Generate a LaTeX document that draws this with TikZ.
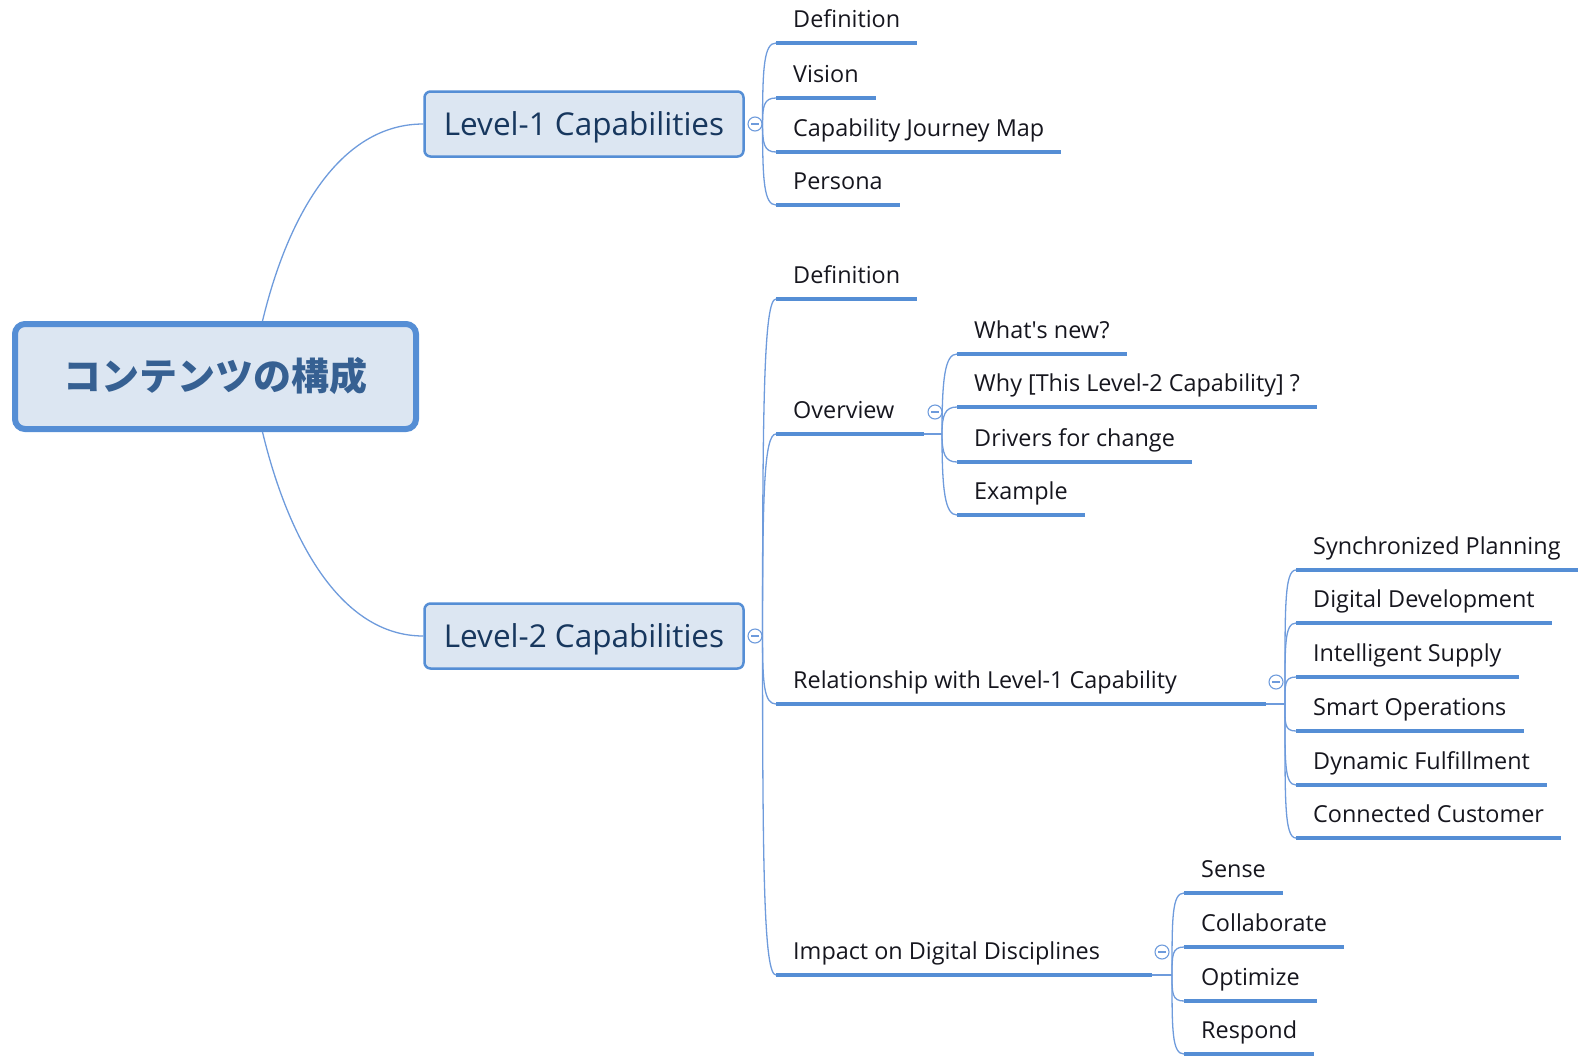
\documentclass[tikz,border=0pt]{standalone}
\usepackage{fontspec}
\setmainfont{Open Sans}
\newfontfamily\jpfont{Noto Sans CJK JP}
\usetikzlibrary{calc}

\definecolor{mapblue}{RGB}{85,142,213}
\definecolor{twigblue}{RGB}{110,155,220}
\definecolor{boxfill}{RGB}{220,230,242}
\definecolor{rootink}{RGB}{54,96,146}
\definecolor{capink}{RGB}{23,55,94}
\definecolor{leafink}{RGB}{22,22,30}

\tikzset{
  rootbox/.style={draw=mapblue, fill=boxfill, line width=6pt, rounded corners=10pt,
    minimum width=401pt, minimum height=105pt, text=rootink,
    font=\jpfont\bfseries\fontsize{38}{44}\selectfont},
  capbox/.style={draw=mapblue, fill=boxfill, line width=2.5pt, rounded corners=6pt,
    minimum width=319pt, minimum height=65pt, text=capink, text height=23pt, text depth=0pt,
    font=\fontsize{31.5}{36}\selectfont},
  leaf/.style={anchor=south west, inner xsep=17pt, inner ysep=0pt,
    text height=17pt, text depth=15pt, text=leafink,
    font=\fontsize{23.4}{28}\selectfont},
  uline/.style={draw=mapblue, line width=4pt},
  twig/.style={draw=twigblue, line width=1.3pt},
  fold/.style={circle, draw=twigblue, fill=white, line width=1.1pt, minimum size=14pt,
    inner sep=0pt, path picture={\draw[twigblue, line width=1.1pt]
      ([xshift=-4pt]path picture bounding box.center) --
      ([xshift=4pt]path picture bounding box.center);}},
  branch/.style={to path={.. controls ($(\tikztostart |- \tikztotarget)!0.3!(\tikztostart)$)
      and ($(\tikztotarget)+(-12,0)$) .. (\tikztotarget)}}
}

\begin{document}
\begin{tikzpicture}[x=1pt, y=-1pt]
  \useasboundingbox (0,0) rectangle (1584,1055);

  % Root and main topics
  \node[rootbox] (root) at (215.5,376.5) {コンテンツの構成};
  \node[capbox] (cap1) at (584,124) {Level-1 Capabilities};
  \node[capbox] (cap2) at (584,636) {Level-2 Capabilities};

  \draw[twig] ([xshift=47pt]root.north) .. controls (288,215) and (340,124) .. (cap1.west);
  \draw[twig] ([xshift=47pt]root.south) .. controls (288,538) and (340,636) .. (cap2.west);

  % Level-1 topics
  \node[leaf] (l1def) at (776,43) {Definition};
  \node[leaf] (l1vis) at (776,98) {Vision};
  \node[leaf] (l1map) at (776,152) {Capability Journey Map};
  \node[leaf] (l1per) at (776,205) {Persona};

  % Level-2 topics
  \node[leaf] (l2def) at (776,299) {Definition};
  \node[leaf] (ov) at (776,434) {Overview};
  \node[leaf] (rel) at (776,704) {Relationship with Level-1 Capability};
  \node[leaf] (imp) at (776,975) {Impact on Digital Disciplines};

  \coordinate (ove) at (924,434);
  \coordinate (rele) at (1266,704);
  \coordinate (impe) at (1152,975);
  \coordinate (b3) at (942,434);
  \coordinate (b4) at (1285,704);
  \coordinate (b5) at (1172,975);

  % Overview
  \node[leaf] (ovnew) at (957,354) {What\textquotesingle s new?};
  \node[leaf] (ovwhy) at (957,407) {Why [This Level-2 Capability] ?};
  \node[leaf] (ovdrv) at (957,462) {Drivers for change};
  \node[leaf] (ovex) at (957,515) {Example};

  % Relationship
  \node[leaf] (sync) at (1296,570) {Synchronized Planning};
  \node[leaf] (digi) at (1296,623) {Digital Development};
  \node[leaf] (intel) at (1296,677) {Intelligent Supply};
  \node[leaf] (smart) at (1296,731) {Smart Operations};
  \node[leaf] (dyna) at (1296,785) {Dynamic Fulfillment};
  \node[leaf] (conn) at (1296,838) {Connected Customer};

  % Impact
  \node[leaf] (sense) at (1184,893) {Sense};
  \node[leaf] (collab) at (1184,947) {Collaborate};
  \node[leaf] (optim) at (1184,1001) {Optimize};
  \node[leaf] (resp) at (1184,1054) {Respond};

  % Folding marks
  \node[fold] (f1) at (755,124) {};
  \node[fold] (f2) at (755,636) {};
  \node[fold] (f3) at (935,412) {};
  \node[fold] (f4) at (1276,682) {};
  \node[fold] (f5) at (1162,952) {};

  % Underlines
  \foreach \n in {l1def,l1vis,l1map,l1per,l2def,ovnew,ovwhy,ovdrv,ovex,
      sync,digi,intel,smart,dyna,conn,sense,collab,optim,resp}
    \draw[uline] (\n.south west) -- (\n.south east);
  \draw[uline] (ov.south west) -- (ove);
  \draw[uline] (rel.south west) -- (rele);
  \draw[uline] (imp.south west) -- (impe);

  \draw[twig] (ove) -- (b3);
  \draw[twig] (rele) -- (b4);
  \draw[twig] (impe) -- (b5);

  % Branches
  \foreach \n in {l1def,l1vis,l1map,l1per}
    \draw[twig] (f1.east) to[branch] (\n.south west);
  \foreach \n in {l2def,ov,rel,imp}
    \draw[twig] (f2.east) to[branch] (\n.south west);
  \foreach \n in {ovnew,ovwhy,ovdrv,ovex}
    \draw[twig] (b3) to[branch] (\n.south west);
  \foreach \n in {sync,digi,intel,smart,dyna,conn}
    \draw[twig] (b4) to[branch] (\n.south west);
  \foreach \n in {sense,collab,optim,resp}
    \draw[twig] (b5) to[branch] (\n.south west);
\end{tikzpicture}
\end{document}
